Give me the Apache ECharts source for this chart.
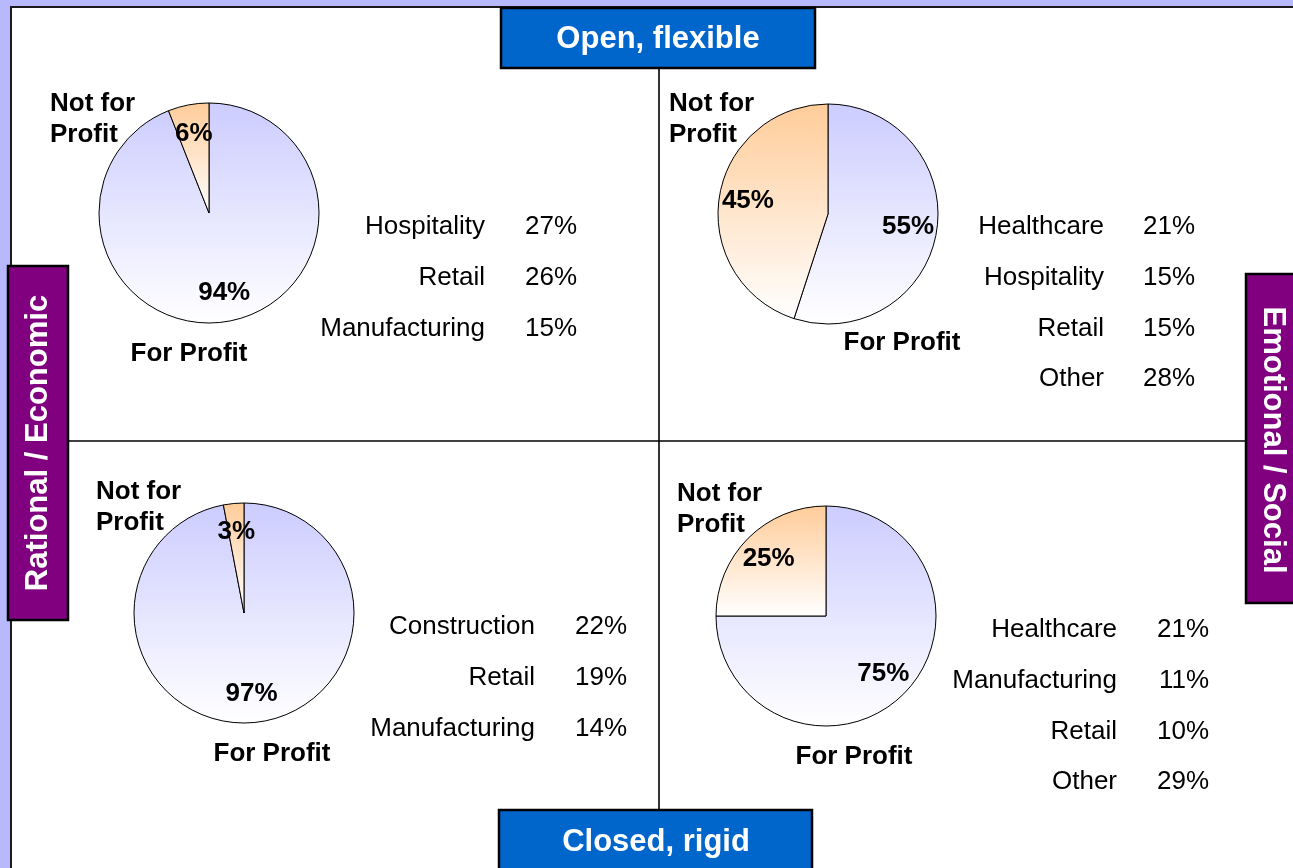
<!DOCTYPE html>
<html>
<head>
<meta charset="utf-8">
<title>For-profit vs not-for-profit by quadrant</title>
<script src="https://cdn.jsdelivr.net/npm/echarts@6/dist/echarts.min.js"></script>
<style>
  html, body { margin: 0; padding: 0; background: #b8b8ff; }
  #chart { width: 1293px; height: 868px; }
</style>
</head>
<body>
<div id="chart"></div>
<script>
// Ownership split per quadrant: TL, TR, BL, BR
const quadrantKeys = ['TL', 'TR', 'BL', 'BR'];
const ownershipNames = ['For Profit', 'Not for Profit'];
const forProfitShare = [94, 55, 97, 75];
const notForProfitShare = [6, 45, 3, 25];

// Leading sectors per quadrant
const sectorsTL = ['Hospitality', 'Retail', 'Manufacturing'];
const sharesTL = [27, 26, 15];
const sectorsTR = ['Healthcare', 'Hospitality', 'Retail', 'Other'];
const sharesTR = [21, 15, 15, 28];
const sectorsBL = ['Construction', 'Retail', 'Manufacturing'];
const sharesBL = [22, 19, 14];
const sectorsBR = ['Healthcare', 'Manufacturing', 'Retail', 'Other'];
const sharesBR = [21, 11, 10, 29];

// Axis captions
const axisTop = 'Open, flexible';
const axisBottom = 'Closed, rigid';
const axisLeft = 'Rational / Economic';
const axisRight = 'Emotional / Social';

const FONT = '"Liberation Sans", Arial, Helvetica, sans-serif';
const LABEL_SIZE = 26;

// layout of each quadrant
const layout = {
  TL: { center: [209, 213], nfp: [50, 88], fp: [189, 354], nameX: 485, pctX: 577, rowY: 227, sectors: sectorsTL, shares: sharesTL },
  TR: { center: [828, 214], nfp: [669, 88], fp: [902, 343], nameX: 1104, pctX: 1195, rowY: 227, sectors: sectorsTR, shares: sharesTR },
  BL: { center: [244, 613], nfp: [96, 476], fp: [272, 754], nameX: 535, pctX: 627, rowY: 627, sectors: sectorsBL, shares: sharesBL },
  BR: { center: [826, 616], nfp: [677, 478], fp: [854, 757], nameX: 1117, pctX: 1209, rowY: 630, sectors: sectorsBR, shares: sharesBR }
};
const R = 110;
const ROW_GAP = 50.7;

function grad(top) {
  return {
    type: 'linear', x: 0, y: 0, x2: 0, y2: 1,
    colorStops: [{ offset: 0, color: top }, { offset: 1, color: '#ffffff' }]
  };
}

const series = [];
const graphics = [];

// white panel with dark frame
graphics.push({
  type: 'rect', z: 0,
  shape: { x: 11, y: 7, width: 1300, height: 880 },
  style: { fill: '#ffffff', stroke: '#1a1a1a', lineWidth: 2 }
});
// quadrant divider lines
graphics.push({
  type: 'line', z: 1,
  shape: { x1: 659, y1: 68, x2: 659, y2: 810 },
  style: { stroke: '#000', lineWidth: 1.6 }
});
graphics.push({
  type: 'line', z: 1,
  shape: { x1: 68, y1: 441, x2: 1246, y2: 441 },
  style: { stroke: '#000', lineWidth: 1.6 }
});

function captionBox(x, y, w, h, fill, text, rotation, textX, textY) {
  graphics.push({
    type: 'rect', z: 2,
    shape: { x: x, y: y, width: w, height: h },
    style: { fill: fill, stroke: '#000', lineWidth: 2.5 }
  });
  graphics.push({
    type: 'text', z: 3,
    x: textX != null ? textX : x + w / 2,
    y: textY != null ? textY : y + h / 2,
    rotation: rotation || 0,
    style: {
      text: text, fill: '#ffffff', font: 'bold 31px ' + FONT,
      align: 'center', verticalAlign: 'middle'
    }
  });
}
captionBox(501, 8, 314, 60, '#0066cc', axisTop, 0, 658, 39);
captionBox(499, 810, 313, 70, '#0066cc', axisBottom, 0, 656, 842);
captionBox(8, 266, 60, 354, '#800080', axisLeft, Math.PI / 2, 38, 443);
captionBox(1246, 274, 60, 329, '#800080', axisRight, -Math.PI / 2, 1273, 440);

quadrantKeys.forEach(function (key, i) {
  const q = layout[key];
  const data = [
    { name: ownershipNames[0], value: forProfitShare[i], itemStyle: { color: grad('#ccccff') } },
    { name: ownershipNames[1], value: notForProfitShare[i], itemStyle: { color: grad('#ffcc99') } }
  ];
  series.push({
    type: 'pie', center: q.center, radius: R,
    startAngle: 90, clockwise: true, silent: true, z: 4,
    label: { show: false }, labelLine: { show: false },
    itemStyle: { borderColor: '#000', borderWidth: 1 },
    emphasis: { disabled: true },
    data: data
  });
  // value labels placed partway out on each slice
  series.push({
    type: 'pie', center: q.center, radius: [R * 0.42, R],
    startAngle: 90, clockwise: true, silent: true, z: 5,
    itemStyle: { color: 'rgba(0,0,0,0)', borderWidth: 0 },
    emphasis: { disabled: true },
    label: {
      show: true, position: 'inside', formatter: '{c}%',
      color: '#000', fontFamily: FONT, fontWeight: 'bold', fontSize: LABEL_SIZE
    },
    labelLine: { show: false },
    data: data.map(function (d) { return { name: d.name, value: d.value }; })
  });

  // ownership category names
  graphics.push({
    type: 'text', z: 6, x: q.nfp[0], y: q.nfp[1],
    style: {
      text: 'Not for\nProfit', fill: '#000', font: 'bold ' + LABEL_SIZE + 'px ' + FONT,
      align: 'left', verticalAlign: 'top', lineHeight: 31
    }
  });
  graphics.push({
    type: 'text', z: 6, x: q.fp[0], y: q.fp[1],
    style: {
      text: ownershipNames[0], fill: '#000', font: 'bold ' + LABEL_SIZE + 'px ' + FONT,
      align: 'center', verticalAlign: 'middle'
    }
  });

  // sector list
  q.sectors.forEach(function (s, k) {
    const y = q.rowY + k * ROW_GAP;
    graphics.push({
      type: 'text', z: 6, x: q.nameX, y: y,
      style: { text: s, fill: '#000', font: LABEL_SIZE + 'px ' + FONT, align: 'right', verticalAlign: 'middle' }
    });
    graphics.push({
      type: 'text', z: 6, x: q.pctX, y: y,
      style: { text: q.shares[k] + '%', fill: '#000', font: LABEL_SIZE + 'px ' + FONT, align: 'right', verticalAlign: 'middle' }
    });
  });
});

const chart = echarts.init(document.getElementById('chart'), null, { renderer: 'canvas' });
chart.setOption({
  backgroundColor: '#b8b8ff',
  animation: false,
  graphic: { elements: graphics },
  series: series
});
</script>
</body>
</html>
